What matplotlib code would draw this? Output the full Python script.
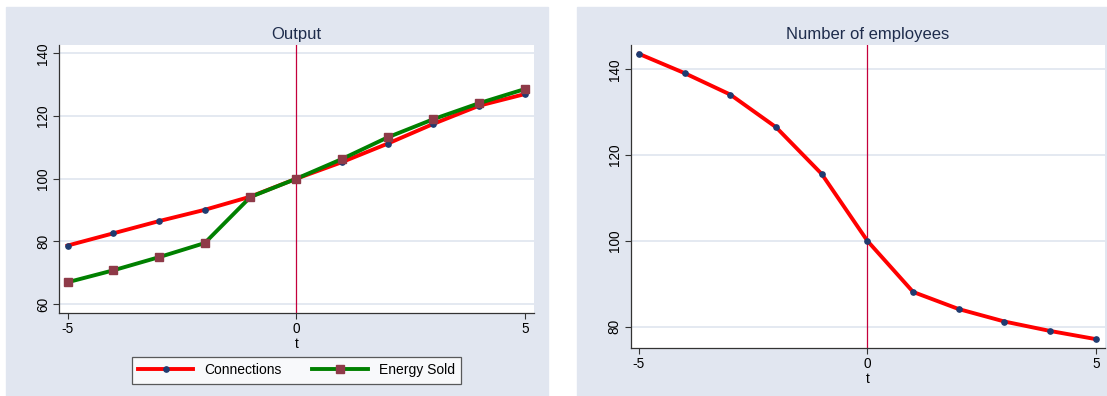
import matplotlib.pyplot as plt
from matplotlib.patches import Rectangle

plt.rcParams['font.family'] = ['Liberation Sans', 'DejaVu Sans']
plt.rcParams['axes.unicode_minus'] = False

# Data
t = [-5, -4, -3, -2, -1, 0, 1, 2, 3, 4, 5]
connections = [78.7, 82.6, 86.5, 90.1, 94.3, 100, 105.3, 111.2, 117.5, 123.3, 127.0]
energy_sold = [67.0, 70.8, 75.0, 79.5, 94.2, 100, 106.3, 113.2, 119.0, 124.1, 128.6]
employees = [143.6, 139.1, 134.1, 126.5, 115.6, 100, 88.1, 84.1, 81.2, 79.0, 77.1]

left_yticks = [60, 80, 100, 120, 140]
right_yticks = [80, 100, 120, 140]
xticks = [-5, 0, 5]

bg = '#e1e6f0'
grid_c = '#e2e7f0'
title_c = '#1e2c4c'
vline_c = '#c4003c'
W, H = 1107, 396

fig = plt.figure(figsize=(W / 100, H / 100), dpi=100)
fig.patch.set_facecolor('white')

# graph region backgrounds
fig.patches.append(Rectangle((6 / W, 0), (548 - 6) / W, 1 - 7 / H,
                             transform=fig.transFigure, color=bg, zorder=-10))
fig.patches.append(Rectangle((577 / W, 0), (W - 577) / W, 1 - 7 / H,
                             transform=fig.transFigure, color=bg, zorder=-10))


def style_axes(ax, yticks, xlim, ylim, title):
    ax.set_facecolor('white')
    ax.set_xlim(*xlim)
    ax.set_ylim(*ylim)
    ax.set_xticks(xticks)
    ax.set_yticks(yticks)
    ax.set_yticklabels([str(v) for v in yticks], rotation=90, va='center')
    for s in ['top', 'right']:
        ax.spines[s].set_visible(False)
    for s in ['left', 'bottom']:
        ax.spines[s].set_color('#333333')
        ax.spines[s].set_linewidth(0.9)
    ax.tick_params(axis='both', direction='out', length=4, width=0.8,
                   color='#333333', labelsize=9.8, pad=2.5)
    ax.yaxis.grid(True, color=grid_c, linewidth=1.3, zorder=0)
    ax.set_axisbelow(True)
    ax.axvline(0, color=vline_c, linewidth=0.9, zorder=1)
    ax.set_xlabel('t', fontsize=9.8, labelpad=1)
    ax.set_title(title, fontsize=12, color=title_c, pad=4)


ax1 = fig.add_axes([59.3 / W, 1 - 313 / H, (534 - 59.3) / W, (313 - 45) / H])
style_axes(ax1, left_yticks, (-5.18, 5.2), (57.2, 142.65), 'Output')
ax1.plot(t, connections, color='red', linewidth=2.8, marker='o',
         markersize=3.8, markerfacecolor='#1f3b70', markeredgecolor='#1f3b70',
         label='Connections', zorder=3)
ax1.plot(t, energy_sold, color='#008000', linewidth=2.8, marker='s',
         markersize=5.5, markerfacecolor='#8e3a48', markeredgecolor='#8e3a48',
         label='Energy Sold', zorder=3)
leg = fig.legend(loc='upper center', bbox_to_anchor=(296.5 / W, 1 - 357 / H),
                 ncol=2, fontsize=10, frameon=True, fancybox=False,
                 handlelength=4.0, columnspacing=2.2, borderpad=0.45,
                 handletextpad=0.8, borderaxespad=0)
leg.get_frame().set_edgecolor('#333333')
leg.get_frame().set_linewidth(0.9)

ax2 = fig.add_axes([630.7 / W, 1 - 347.7 / H, (1105 - 630.7) / W, (347.7 - 45) / H])
style_axes(ax2, right_yticks, (-5.18, 5.2), (75.1, 145.66), 'Number of employees')
ax2.plot(t, employees, color='red', linewidth=2.8, marker='o',
         markersize=3.8, markerfacecolor='#1f3b70', markeredgecolor='#1f3b70',
         zorder=3)

fig.savefig('out.png', dpi=100)
